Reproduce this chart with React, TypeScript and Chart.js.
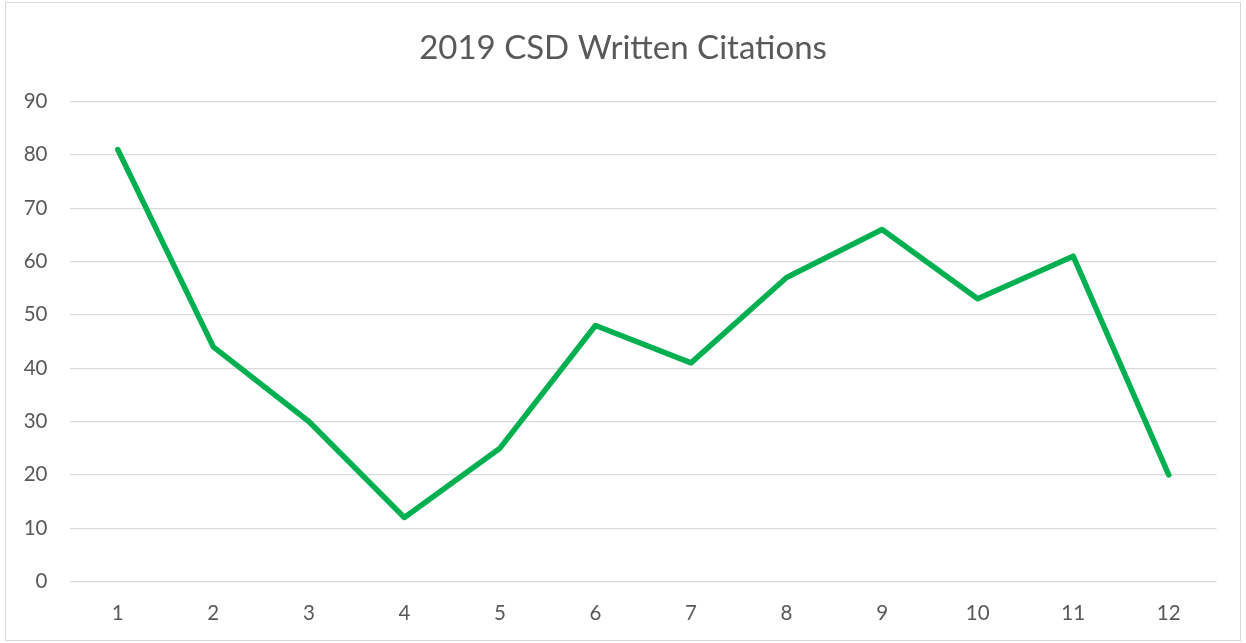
import React, { useEffect, useRef } from "react";
import { Chart, registerables } from "chart.js";

Chart.register(...registerables);

const categories = ["1", "2", "3", "4", "5", "6", "7", "8", "9", "10", "11", "12"];
const citations = [81, 44, 30, 12, 25, 48, 41, 57, 66, 53, 61, 20];
const titleText = "2019 CSD Written Citations";
const yMin = 0;
const yMax = 90;
const yStep = 10;

const FONT = "Lato, 'Open Sans', sans-serif";

const centeredTitle = {
  id: "centeredTitle",
  afterDraw(chart: any) {
    const ctx = chart.ctx;
    ctx.save();
    ctx.font = `normal 33px ${FONT}`;
    ctx.fillStyle = "#595959";
    ctx.textAlign = "center";
    ctx.textBaseline = "middle";
    ctx.fillText(titleText, chart.width / 2, 48);
    ctx.restore();
  },
};

export default function App() {
  const ref = useRef<HTMLCanvasElement | null>(null);

  useEffect(() => {
    if (!ref.current) return;
    const chart = new Chart(ref.current, {
      type: "line",
      data: {
        labels: categories,
        datasets: [
          {
            data: citations,
            borderColor: "#00B050",
            backgroundColor: "#00B050",
            borderWidth: 5.5,
            pointRadius: 0,
            pointHoverRadius: 0,
            tension: 0,
            borderJoinStyle: "round",
            borderCapStyle: "round",
            fill: false,
          },
        ],
      },
      options: {
        animation: false,
        responsive: true,
        maintainAspectRatio: false,
        layout: { padding: { left: 0, right: 29.5, top: 101.5, bottom: 0 } },
        plugins: {
          legend: { display: false },
          tooltip: { enabled: false },
          title: { display: false },
        },
        scales: {
          x: {
            type: "category",
            offset: true,
            grid: { display: false, drawTicks: false },
            border: { display: false },
            ticks: {
              color: "#595959",
              font: { family: FONT, size: 20.5, lineHeight: 1.2 },
              padding: 19.5,
              maxRotation: 0,
              autoSkip: false,
            },
            afterFit: (s: any) => {
              s.height = 61.5;
            },
          },
          y: {
            min: yMin,
            max: yMax,
            grid: { color: "#d9d9d9", lineWidth: 1.3, drawTicks: false },
            border: { display: false },
            ticks: {
              stepSize: yStep,
              color: "#595959",
              font: { family: FONT, size: 20.5, lineHeight: 1.2 },
              padding: 22.5,
            },
            afterFit: (s: any) => {
              s.width = 70;
            },
          },
        },
      },
      plugins: [centeredTitle],
    });
    return () => chart.destroy();
  }, []);

  return (
    <div style={{ position: "fixed", left: 0, top: 0, width: 1246, height: 643, background: "#fff" }}>
      <canvas ref={ref} />
      <div
        style={{
          position: "absolute",
          left: 5,
          top: 2,
          width: 1236,
          height: 639,
          border: "1.3px solid #d9d9d9",
          boxSizing: "border-box",
          pointerEvents: "none",
        }}
      />
    </div>
  );
}
